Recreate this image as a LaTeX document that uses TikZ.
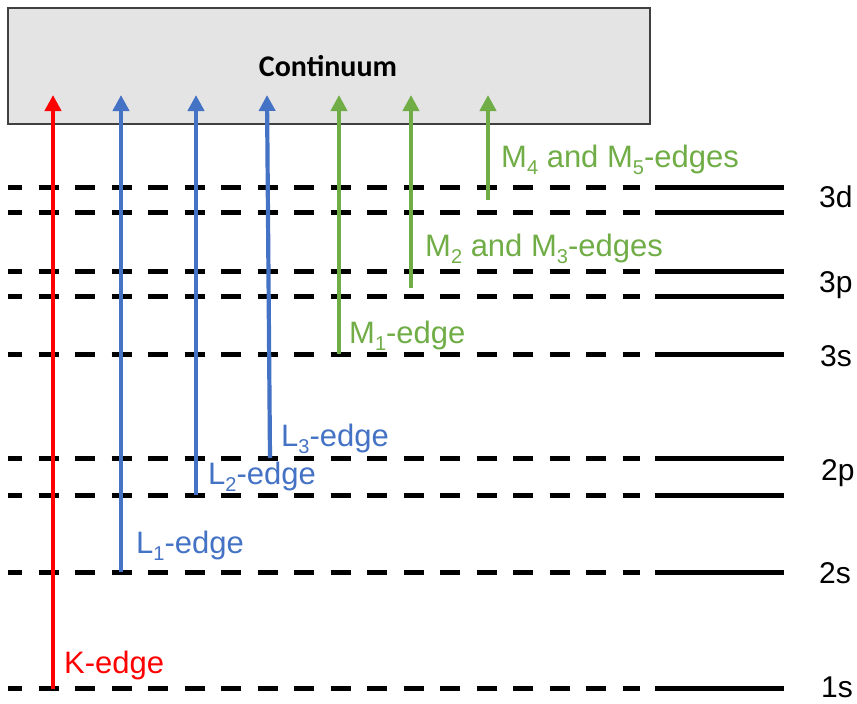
\documentclass[tikz,border=0pt]{standalone}
\usepackage{fontspec}
\setmainfont{Liberation Sans}
\newfontfamily\calib{Carlito}
\usetikzlibrary{arrows.meta}
\definecolor{kred}{HTML}{FF0000}
\definecolor{lblue}{HTML}{4472C4}
\definecolor{mgreen}{HTML}{70AD47}
\definecolor{boxfill}{HTML}{E4E4E4}
\definecolor{boxline}{HTML}{404040}
\newcommand\lowsub[1]{\raisebox{-0.25em}{\fontsize{20}{20}\selectfont #1}}
\tikzset{
  level/.style={line width=5pt, black, dash pattern=on 20pt off 16.5pt, dash phase=6pt},
  solidlevel/.style={line width=5pt, black},
  edgearrow/.style={line width=4.2pt, -{Triangle[width=16pt,length=16pt]}},
  edgelabel/.style={anchor=base west, inner sep=0pt, font=\fontsize{31}{36}\selectfont},
  shelllabel/.style={anchor=base west, inner sep=0pt, font=\fontsize{30}{34}\selectfont},
}
\begin{document}
\begin{tikzpicture}[x=1pt,y=-1pt]
\useasboundingbox (0,0) rectangle (857,704);
% continuum box
\node[draw=boxline, fill=boxfill, line width=1.5pt, minimum width=642pt, minimum height=116pt, inner sep=0pt] (cont) at (329,66) {};
\node[font=\calib\bfseries\fontsize{30}{33}\selectfont, inner sep=0pt] (conttext) at (328,66) {Continuum};
% levels
\foreach \name/\y in {d3a/187, d3b/212.5, p3a/271, p3b/296, s3/354, p2a/458, p2b/495, s2/572, s1/688.5}{
  \coordinate (\name L) at (8,\y);
  \coordinate (\name M) at (640,\y);
  \coordinate (\name S) at (655,\y);
  \coordinate (\name R) at (784,\y);
  \draw[level] (\name L) -- (\name M);
  \draw[solidlevel] (\name S) -- (\name R);
}
% shell labels
\node[shelllabel] (l3d) at (819,207) {3d};
\node[shelllabel] (l3p) at (819,292) {3p};
\node[shelllabel] (l3s) at (820,366) {3s};
\node[shelllabel] (l2p) at (821,480) {2p};
\node[shelllabel] (l2s) at (819,583) {2s};
\node[shelllabel] (l1s) at (821,697) {1s};
% arrow end points
\coordinate (kb) at (53,688.5);   \coordinate (kt) at (53,95);
\coordinate (l1b) at (121,572);   \coordinate (l1t) at (121,95);
\coordinate (l2b) at (196,495);   \coordinate (l2t) at (196,95);
\coordinate (l3b) at (270,458);   \coordinate (l3t) at (267,95);
\coordinate (m1b) at (339,354);   \coordinate (m1t) at (339,95);
\coordinate (m2b) at (411,288);   \coordinate (m2t) at (411,95);
\coordinate (m4b) at (488,200);   \coordinate (m4t) at (488,95);
\draw[edgearrow, kred] (kb) -- (kt);
\draw[edgearrow, lblue] (l1b) -- (l1t);
\draw[edgearrow, lblue] (l2b) -- (l2t);
\draw[edgearrow, lblue] (l3b) -- (l3t);
\draw[edgearrow, mgreen] (m1b) -- (m1t);
\draw[edgearrow, mgreen] (m2b) -- (m2t);
\draw[edgearrow, mgreen] (m4b) -- (m4t);
% edge labels
\node[edgelabel, text=kred] (kl) at (64,673) {K-edge};
\node[edgelabel, text=lblue] (l1l) at (136,553) {L\lowsub{1}-edge};
\node[edgelabel, text=lblue] (l2l) at (208,484) {L\lowsub{2}-edge};
\node[edgelabel, text=lblue] (l3l) at (281,446) {L\lowsub{3}-edge};
\node[edgelabel, text=mgreen] (m1l) at (349,343) {M\lowsub{1}-edge};
\node[edgelabel, text=mgreen] (m2l) at (425,256) {M\lowsub{2} and M\lowsub{3}-edges};
\node[edgelabel, text=mgreen] (m4l) at (501,167) {M\lowsub{4} and M\lowsub{5}-edges};
\end{tikzpicture}
\end{document}
